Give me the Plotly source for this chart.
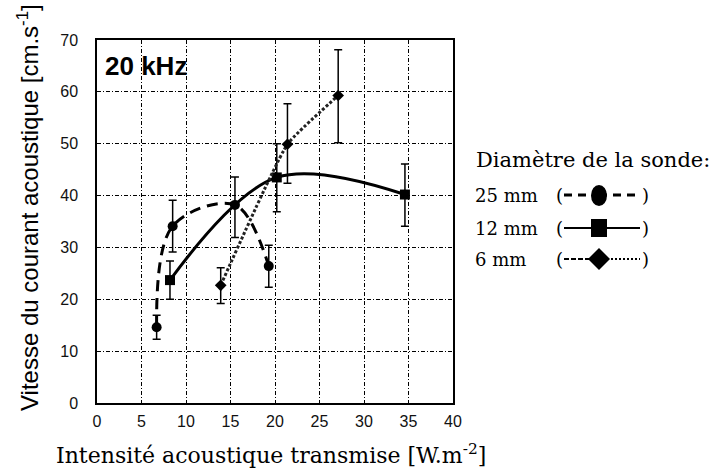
import plotly.graph_objects as go

# ---- data ----
x_25 = [6.7, 8.5, 15.5, 19.3]
y_25 = [14.6, 34.1, 38.2, 26.4]
e25_plus = [2.3, 5.0, 5.4, 4.0]
e25_minus = [2.3, 5.0, 6.3, 4.1]

x_12 = [8.2, 20.2, 34.6]
y_12 = [23.7, 43.5, 40.2]
e12_plus = [3.7, 6.5, 5.9]
e12_minus = [3.7, 6.6, 6.1]

x_6 = [13.9, 21.4, 27.1]
y_6 = [22.7, 49.9, 59.3]
e6_plus = [3.4, 7.8, 8.8]
e6_minus = [3.5, 7.5, 9.1]

x_ticks = [0, 5, 10, 15, 20, 25, 30, 35, 40]
y_ticks = [0, 10, 20, 30, 40, 50, 60, 70]

legend_labels = ["25 mm", "12 mm", "6 mm"]

# ---- layout geometry (pixels) ----
FW, FH = 719, 470
L, R, T, B = 97, 453, 40, 403
PW, PH = R - L, B - T


def px(x):
    return (x - L) / PW


def py(y):
    return (B - y) / PH


fig = go.Figure()


def err(plus, minus):
    return dict(type="data", symmetric=False, array=plus, arrayminus=minus,
                color="black", thickness=1.5, width=4)


fig.add_trace(go.Scatter(
    x=x_25, y=y_25, mode="lines+markers",
    line=dict(color="black", width=3, dash="11px,7px", shape="spline", smoothing=1.0),
    marker=dict(symbol="circle", size=10, color="black"),
    error_y=err(e25_plus, e25_minus)))

fig.add_trace(go.Scatter(
    x=x_12, y=y_12, mode="lines+markers",
    line=dict(color="black", width=3, shape="spline", smoothing=1.0),
    marker=dict(symbol="square", size=10, color="black"),
    error_y=err(e12_plus, e12_minus)))

fig.add_trace(go.Scatter(
    x=x_6, y=y_6, mode="lines+markers",
    line=dict(color="#222", width=3, dash="3px,2px", shape="spline", smoothing=0.4),
    marker=dict(symbol="diamond", size=9, color="black"),
    error_y=err(e6_plus, e6_minus)))

axis_common = dict(
    showgrid=True, gridcolor="black", gridwidth=1, griddash="4px,2px,1px,2px",
    zeroline=False, showline=True, mirror=True, linecolor="black", linewidth=1.5,
    ticks="", tickfont=dict(family="Liberation Sans, Arial", size=16, color="#111"),
)

fig.update_xaxes(range=[0, 40], tickvals=x_ticks, ticklabelstandoff=3, **axis_common)
fig.update_yaxes(range=[0, 70], tickvals=y_ticks, ticklabelstandoff=14, **axis_common)

serif = "DejaVu Serif"
ann = [
    dict(text="<b>20 kHz</b>", x=px(103), y=py(66), xanchor="left", yanchor="middle",
         font=dict(family="Liberation Sans, Arial", size=26, color="black")),
    dict(text="Vitesse du courant acoustique [cm.s<sup>-1</sup>]", x=px(28), y=py(208),
         textangle=-90, xanchor="center", yanchor="middle",
         font=dict(family="Liberation Sans, Arial", size=24, color="black")),
    dict(text="Intensité acoustique transmise [W.m<sup>-2</sup>]", x=px(271), y=py(454),
         xanchor="center", yanchor="middle",
         font=dict(family=serif, size=22, color="black")),
    dict(text="Diamètre de la sonde:", x=px(474), y=py(160), xanchor="left", yanchor="middle",
         font=dict(family=serif, size=21, color="black")),
]
row_y = [195, 228, 259]
for lab, ry in zip(legend_labels, row_y):
    ann.append(dict(text=lab, x=px(473), y=py(ry), xanchor="left", yanchor="middle",
                    font=dict(family=serif, size=18, color="black")))
    ann.append(dict(text="(", x=px(559), y=py(ry), xanchor="center", yanchor="middle",
                    font=dict(family=serif, size=18, color="black")))
    ann.append(dict(text=")", x=px(645), y=py(ry), xanchor="center", yanchor="middle",
                    font=dict(family=serif, size=18, color="black")))
for a in ann:
    a.update(xref="paper", yref="paper", showarrow=False)
fig.update_layout(annotations=ann)

# legend glyphs (drawn as decoration shapes)
shapes = []
sx0, sx1, cx = 564, 640, 599
# 25 mm: dashed + ellipse
shapes.append(dict(type="line", x0=px(sx0), x1=px(cx), y0=py(195), y1=py(195),
                   line=dict(color="black", width=3, dash="8px,6px")))
shapes.append(dict(type="line", x0=px(cx), x1=px(sx1), y0=py(195), y1=py(195),
                   line=dict(color="black", width=3, dash="8px,6px")))
shapes.append(dict(type="circle", x0=px(cx - 8), x1=px(cx + 8), y0=py(185), y1=py(206),
                   fillcolor="black", line=dict(color="black", width=0)))
# 12 mm: solid + square
shapes.append(dict(type="line", x0=px(sx0), x1=px(sx1), y0=py(228), y1=py(228),
                   line=dict(color="black", width=2)))
shapes.append(dict(type="rect", x0=px(cx - 8), x1=px(cx + 8), y0=py(219), y1=py(237),
                   fillcolor="black", line=dict(color="black", width=0)))
# 6 mm: dashed left, dotted right + diamond
shapes.append(dict(type="line", x0=px(sx0), x1=px(cx), y0=py(259), y1=py(259),
                   line=dict(color="black", width=2, dash="5px,2px")))
shapes.append(dict(type="line", x0=px(cx), x1=px(sx1), y0=py(259), y1=py(259),
                   line=dict(color="black", width=2, dash="2px,2px")))
d = 11
path = (f"M {px(cx)} {py(259 - d)} L {px(cx + d)} {py(259)} "
        f"L {px(cx)} {py(259 + d)} L {px(cx - d)} {py(259)} Z")
shapes.append(dict(type="path", path=path, fillcolor="black", line=dict(color="black", width=0)))
for s in shapes:
    s.update(xref="paper", yref="paper")
fig.update_layout(shapes=shapes)

fig.update_layout(
    width=FW, height=FH, showlegend=False,
    margin=dict(l=L, r=FW - R, t=T, b=FH - B, pad=0),
    paper_bgcolor="white", plot_bgcolor="white",
)

fig.write_html("out.html", config={"displayModeBar": False},
               post_script="document.body.style.margin='0';document.body.style.padding='0';")
